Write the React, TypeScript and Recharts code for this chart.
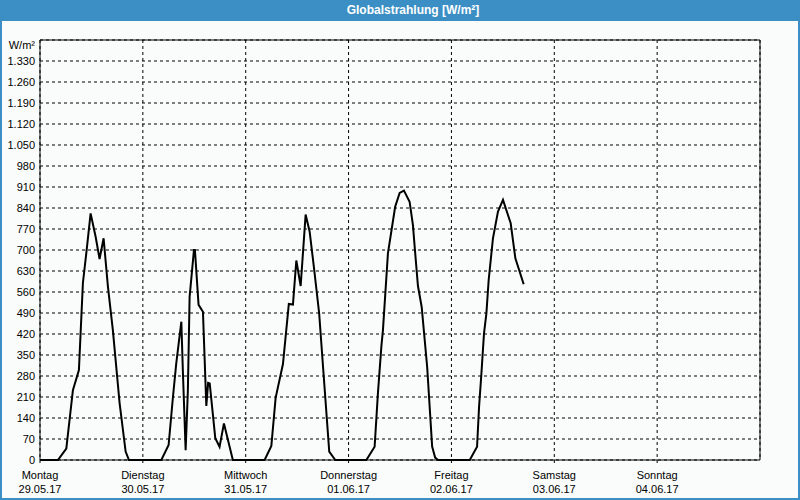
import { LineChart, Line, XAxis, YAxis, CartesianGrid, ReferenceLine } from "recharts";

// hours since Monday 00:00 and global radiation in W/m²
const hours = [
  0, 4.18, 6.14, 7.68, 9.08, 10.01, 10.8, 11.81, 12.98, 13.9, 14.84, 15.85, 17.0, 18.58, 19.98, 20.75,
  28.31, 30.01, 31.02, 31.8, 32.98, 33.35, 33.98, 34.5, 34.91, 35.92, 36.15, 37.0, 38.02, 38.81, 39.23, 39.6,
  40.9, 41.9, 42.92, 45.0,
  52.41, 53.98, 54.98, 56.69, 58.06, 59.02, 59.81, 60.82, 61.98, 62.92, 63.99, 65.13, 66.2, 67.49, 68.9,
  76.15, 78.08, 78.85, 79.65, 80.02, 81.19, 82.87, 83.92, 84.92, 86.24, 87.02, 87.42, 88.19, 89.06, 90.34,
  91.5, 92.2, 92.86,
  100.28, 101.98, 102.45, 103.0, 103.6, 104.16, 104.69, 105.69, 106.86, 108.03, 109.83, 110.92, 112.86,
];
const radiation = [
  0, 0, 38, 233, 300, 590, 689, 822, 744, 670, 739, 578, 433, 189, 28, 0,
  0, 50, 210, 323, 461, 290, 33, 230, 544, 700, 700, 517, 494, 180, 257, 255,
  73, 44, 122, 0,
  0, 47, 207, 320, 520, 518, 665, 580, 818, 761, 633, 490, 280, 28, 0,
  0, 44, 223, 378, 433, 690, 844, 890, 898, 861, 783, 711, 580, 510, 310,
  45, 8, 0,
  0, 44, 178, 289, 422, 489, 600, 739, 828, 867, 789, 672, 586,
];

const dayNames = ["Montag", "Dienstag", "Mittwoch", "Donnerstag", "Freitag", "Samstag", "Sonntag"];
const dayDates = ["29.05.17", "30.05.17", "31.05.17", "01.06.17", "02.06.17", "03.06.17", "04.06.17"];
const dayTicks = [0, 24, 48, 72, 96, 120, 144];
const yTicks = [0, 70, 140, 210, 280, 350, 420, 490, 560, 630, 700, 770, 840, 910, 980, 1050, 1120, 1190, 1260, 1330, 1400];

const data = hours.map((t, i) => ({ t, v: radiation[i] }));

const FONT = "'Liberation Sans', Arial, sans-serif";
const BLUE = "#3c8fc4";

const fmt = (v: number) =>
  v >= 1000 ? `${Math.floor(v / 1000)}.${String(v % 1000).padStart(3, "0")}` : String(v);

function YTick({ x, y, payload }: any) {
  const top = payload.value === 1400;
  return (
    <text x={x} y={y + (top ? 5 : 0)} dy={4} textAnchor="end" fontSize={11} fontFamily={FONT} fill="#000">
      {top ? "W/m²" : fmt(payload.value)}
    </text>
  );
}

function XTick({ x, y, payload, index }: any) {
  return (
    <g>
      <text x={x} y={y} dy={14} textAnchor="middle" fontSize={11} fontFamily={FONT} fill="#000">
        {dayNames[index]}
      </text>
      <text x={x} y={y} dy={28} textAnchor="middle" fontSize={11} fontFamily={FONT} fill="#000">
        {dayDates[index]}
      </text>
    </g>
  );
}

export default function App() {
  return (
    <div style={{ position: "absolute", left: 0, top: 0, width: 800, height: 500, background: BLUE }}>
      <div
        style={{
          position: "absolute",
          left: 413,
          top: 0,
          height: 21,
          lineHeight: "21px",
          transform: "translateX(-50%)",
          color: "#fff",
          fontWeight: "bold",
          fontSize: 12,
          fontFamily: FONT,
          whiteSpace: "nowrap",
        }}
      >
        Globalstrahlung [W/m²]
      </div>
      <div style={{ position: "absolute", left: 2, top: 21, width: 796, height: 477, background: "#fafcfb" }} />
      <div style={{ position: "absolute", left: 0, top: 0 }}>
        <LineChart width={800} height={500} data={data} margin={{ top: 40, right: 40, bottom: 0, left: 0 }}>
          <CartesianGrid stroke="#000" strokeDasharray="3 3" />
          <XAxis
            dataKey="t"
            type="number"
            domain={[0, 168]}
            ticks={dayTicks}
            interval={0}
            height={40}
            tickSize={3}
            axisLine={{ stroke: "#000" }}
            tickLine={{ stroke: "#000" }}
            tick={<XTick />}
          />
          <YAxis
            type="number"
            domain={[0, 1400]}
            ticks={yTicks}
            interval={0}
            width={40}
            tickSize={0}
            tickMargin={5}
            axisLine={{ stroke: "#000" }}
            tickLine={false}
            tick={<YTick />}
          />
          <ReferenceLine y={1400} stroke="#000" />
          <ReferenceLine x={168} stroke="#000" />
          <Line
            type="linear"
            dataKey="v"
            stroke="#000"
            strokeWidth={2}
            dot={false}
            isAnimationActive={false}
          />
        </LineChart>
      </div>
    </div>
  );
}
